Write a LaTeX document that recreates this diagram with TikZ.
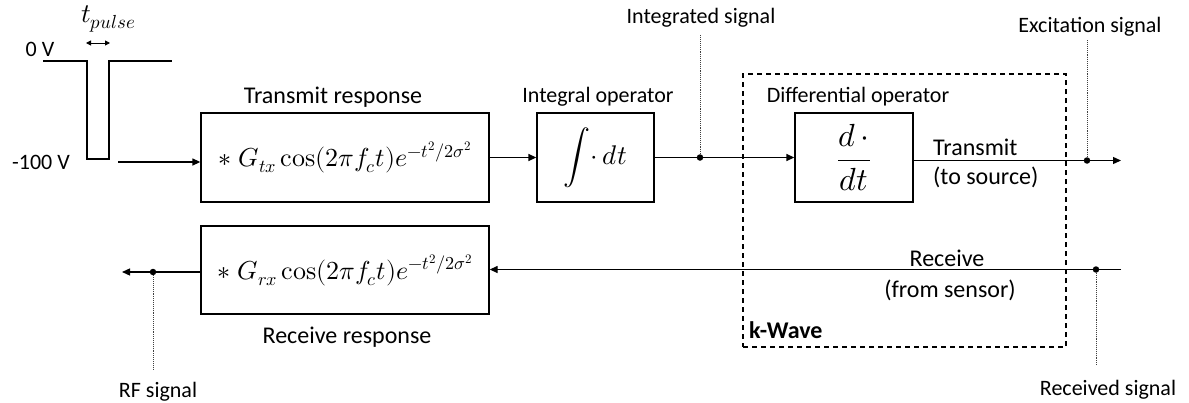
\documentclass[tikz,border=0pt]{standalone}
\usepackage{amsmath}
\usepackage{fontspec}
\usepackage[mathrm=sym]{unicode-math}
\setmainfont{Carlito}
\setmathfont{Latin Modern Math}
\usetikzlibrary{arrows.meta}
\begin{document}
\begin{tikzpicture}[x=1pt,y=-1pt,
  lbl/.style={font=\fontsize{22}{26}\selectfont, inner sep=0pt},
  ttl/.style={font=\fontsize{24}{28}\selectfont, inner sep=0pt},
  blk/.style={draw, line width=1.3pt, rectangle, inner sep=0pt, font=\fontsize{26}{31}\selectfont},
  kwbox/.style={draw, line width=1.2pt, dash pattern=on 5pt off 4pt, rectangle, inner sep=0pt},
  arr/.style={line width=1.3pt, -{Triangle[length=8pt,width=7pt]}},
  ln/.style={line width=1.3pt},
  dotd/.style={circle, fill, inner sep=0pt, minimum size=6.5pt},
  pin/.style={line width=0.9pt, densely dotted, black!75}
]
\useasboundingbox (0,0) rectangle (1189,402);

% pulse
\draw[ln] (43,61) -- (87,61) -- (87,159) -- (109,159) -- (109,61) -- (172,61);
\node[lbl] (zero) at (40,49) {0 V};
\node[lbl] (minus) at (41,162) {-100 V};
\node[inner sep=0pt, anchor=base west, font=\fontsize{27}{32}\selectfont] (tp) at (81,22) {$t_{pulse}$};
\coordinate (tpa) at (86,43);
\coordinate (tpb) at (110,43);
\draw[line width=1pt, {Triangle[length=5pt,width=5pt]}-{Triangle[length=5pt,width=5pt]}] (tpa) -- (tpb);

% blocks
\node[blk, minimum width=288pt, minimum height=89pt] (tx) at (345,157.5)
  {$\ast\; G_{tx}\cos(2\pi f_c t)e^{-t^2/2\sigma^2}$};
\node[blk, minimum width=288pt, minimum height=88pt] (rx) at (345,270)
  {$\ast\; G_{rx}\cos(2\pi f_c t)e^{-t^2/2\sigma^2}$};
\node[blk, minimum width=117pt, minimum height=89pt, font=\fontsize{27}{31}\selectfont] (int) at (595.5,157.5)
  {$\displaystyle\int\!\cdot\, dt$};
\node[blk, minimum width=118pt, minimum height=89pt, font=\fontsize{32}{36}\selectfont] (diff) at (854,157.5)
  {$\dfrac{d\,\cdot}{dt}$};
\node[kwbox, minimum width=323pt, minimum height=273pt] (kw) at (904.5,210.5) {};

% titles
\node[ttl] (txl) at (333,97) {Transmit response};
\node[ttl] (rxl) at (347,337) {Receive response};
\node[lbl] (intl) at (598,97) {Integral operator};
\node[lbl] (diffl) at (858,97) {Differential operator};
\node[font=\fontsize{24}{28}\selectfont\bfseries, inner sep=0pt, anchor=west] (kwl) at (749,330) {k-Wave};

% transmit path
\coordinate (pinput) at (118,162);
\draw[arr] (pinput) -- (pinput -| tx.west);
\draw[arr] (tx.east) -- (int.west);
\draw[arr] (int.east) -- (diff.west);
\node[dotd] (d1) at (700,157.5) {};
\coordinate (d1top) at (700,35);
\draw[pin] (d1) -- (d1top);
\node[lbl] (intsig) at (701,18) {Integrated signal};

\coordinate (txout) at (1121,160.5);
\draw[arr] ([yshift=-3pt]diff.east) -- (txout);
\node[dotd] (d2) at (1087,160.5) {};
\coordinate (d2top) at (1087,40);
\draw[pin] (d2) -- (d2top);
\node[lbl] (excsig) at (1090,27) {Excitation signal};
\node[ttl, anchor=west] (trl) at (933,147) {Transmit};
\node[ttl, anchor=west] (tsl) at (933,177) {(to source)};

% receive path
\coordinate (rin) at (1121,269.5);
\draw[arr] (rin) -- (rin -| rx.east);
\node[dotd] (d3) at (1096,269.5) {};
\coordinate (d3bot) at (1096,365);
\draw[pin] (d3) -- (d3bot);
\node[lbl] (recsig) at (1108,390) {Received signal};
\node[ttl] (recl) at (947,258) {Receive};
\node[ttl] (fsl) at (950,290) {(from sensor)};

\coordinate (rfout) at (122,272);
\draw[arr] (rfout -| rx.west) -- (rfout);
\node[dotd] (d4) at (153,272) {};
\coordinate (d4bot) at (153,370);
\draw[pin] (d4) -- (d4bot);
\node[lbl] (rfsig) at (158,392) {RF signal};
\end{tikzpicture}
\end{document}
